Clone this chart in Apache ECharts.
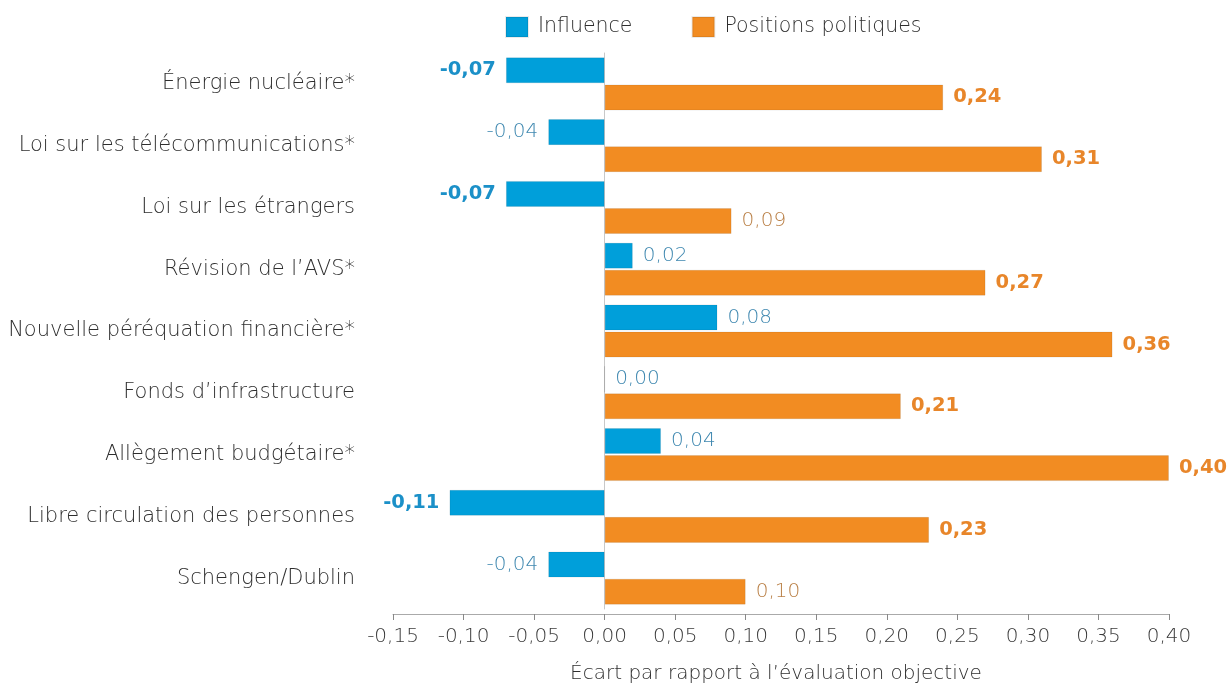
<!DOCTYPE html>
<html><head><meta charset="utf-8">
<script src="https://cdn.jsdelivr.net/npm/echarts@6/dist/echarts.min.js"></script>
<style>html,body{margin:0;padding:0;background:#fff}#c{width:1232px;height:684px}</style>
</head><body><div id="c"></div>
<script>
const categories = ["Énergie nucléaire*","Loi sur les télécommunications*","Loi sur les étrangers","Révision de l’AVS*","Nouvelle péréquation financière*","Fonds d’infrastructure","Allègement budgétaire*","Libre circulation des personnes","Schengen/Dublin"];
const influence = [-0.07,-0.04,-0.07,0.02,0.08,0.00,0.04,-0.11,-0.04];
const positions = [0.24,0.31,0.09,0.27,0.36,0.21,0.40,0.23,0.10];
const influenceBold = [true,false,true,false,false,false,false,true,false];
const positionsBold = [true,true,false,true,true,true,true,true,false];
const xTicks = {min:-0.15,max:0.40,interval:0.05};

const FONT = '"DejaVu Sans", sans-serif';
const LIGHT = 200;
const fmt = v => v.toFixed(2).replace('.', ',');
function build(vals, bold, cBold, cLight){
  return vals.map((v,i)=>({
    value:v,
    label:{
      show:true,
      position: v<0 ? 'left' : 'right',
      distance: 10,
      formatter: fmt(v),
      fontFamily: FONT,
      fontSize: bold[i] ? 19.5 : 20,
      fontWeight: bold[i] ? 'bold' : LIGHT,
      color: bold[i] ? cBold : cLight
    }
  }));
}
const chart = echarts.init(document.getElementById('c'));
chart.setOption({
  animation:false,
  textStyle:{fontFamily:FONT},
  legend:{
    top:11, left:500, itemWidth:22, itemHeight:20, itemGap:59,
    icon:'rect',
    textStyle:{fontSize:20.5, color:'#2e2e2e', fontWeight:LIGHT, fontFamily:FONT, padding:[0,0,0,5]},
    data:['Influence','Positions politiques']
  },
  grid:{left:393, right:63, top:53, bottom:75, containLabel:false, outerBoundsMode:'none'},
  xAxis:{
    type:'value', min:xTicks.min, max:xTicks.max, interval:xTicks.interval,
    offset:5,
    name:'Écart par rapport à l’évaluation objective',
    nameLocation:'middle', nameGap:50,
    nameTextStyle:{fontSize:20, color:'#2e2e2e', fontWeight:LIGHT, padding:[0,10,0,0]},
    axisLine:{show:true, lineStyle:{color:'#aaa', width:1}},
    axisTick:{show:true, length:6, lineStyle:{color:'#888'}},
    axisLabel:{fontSize:20, color:'#3a3a3a', fontWeight:LIGHT, margin:13, formatter:v=>fmt(v)},
    splitLine:{show:false}
  },
  yAxis:{
    type:'category', data:categories, inverse:true,
    axisLine:{show:true, onZero:true, lineStyle:{color:'#c8c8c8', width:1}},
    axisTick:{show:false},
    axisLabel:{fontSize:21, color:'#2e2e2e', fontWeight:LIGHT, margin:38},
    position:'left'
  },
  series:[
    {name:'Influence', type:'bar', barGap:'4%', barCategoryGap:'14%',
     itemStyle:{color:'#009fda', borderColor:'rgba(0,0,0,0.08)', borderWidth:1},
     data:build(influence, influenceBold, '#1b90c8', '#3f88b0')},
    {name:'Positions politiques', type:'bar',
     itemStyle:{color:'#f28c22', borderColor:'rgba(0,0,0,0.08)', borderWidth:1},
     data:build(positions, positionsBold, '#e8862a', '#b97f45')}
  ]
});
</script></body></html>
